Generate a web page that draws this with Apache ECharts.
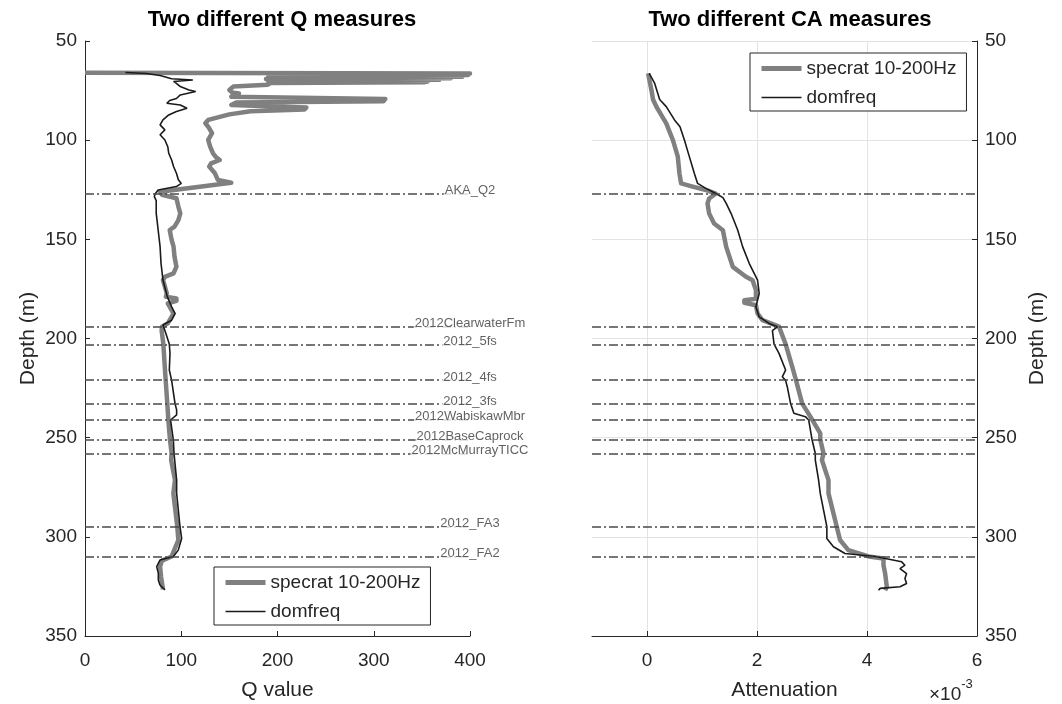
<!DOCTYPE html>
<html><head><meta charset="utf-8">
<script src="https://cdn.jsdelivr.net/npm/echarts@6/dist/echarts.min.js"></script>
<style>html,body{margin:0;padding:0;background:#fff}#c{width:1062px;height:704px}</style>
</head><body><div id="c"></div>
<script>
// ---- data ----
const formationNames = ['AKA_Q2','2012ClearwaterFm','2012_5fs','2012_4fs','2012_3fs','2012WabiskawMbr','2012BaseCaprock','2012McMurrayTICC','2012_FA3','2012_FA2'];
const formationDepths = [127, 194, 203, 221, 233, 241, 251, 258, 295, 310];

const depthTicks = [50, 100, 150, 200, 250, 300, 350];
const qTicks = [0, 100, 200, 300, 400];
const attTicks = [0, 2, 4, 6];

// Q value, specrat 10-200Hz
const qSpecDepth = [66.0,66.4,66.8,67.2,67.6,68.0,68.4,68.8,69.2,69.6,70.0,70.4,70.8,71.2,72.0,73.0,74.7,76.0,76.4,77.2,78.1,79.2,80.4,81.0,82.3,83.5,84.6,85.4,87.0,89.8,91.5,93.2,96.5,99.9,103.3,106.6,108.5,110.0,111.7,113.3,116.7,120.0,121.5,122.5,126.0,127.5,129.3,133.5,136.9,140.3,143.6,145.3,150.3,153.7,158.8,163.8,167.2,168.9,170.5,177.3,179.0,179.8,181.0,182.3,187.4,192.4,194.1,196.0,202.8,215.9,232.7,241.1,251.2,258.0,261.3,271.4,278.1,294.9,301.6,309.9,312.0,315.0,320.0,326.5];
const qSpecVal   = [0,400,196,398,193,392,190,380,188,368,190,356,352,193,190,154,150,153,160,155,152,312,310,157,152,230,228,172,150,128,125,128,132,128,130,133,136,140,131,129,135,138,152,150,78,80,95,97,99,97,93,88,90,92,93,95,92,83,81,85,84,95,95,86,92,86,80,79.6,81.4,83.1,85.5,86.6,88.3,90.0,89.5,93.5,91.8,95.9,97,90,80,78,79,81];

// Q value, domfreq
const qDomDepth = [65.9,66.4,67.4,69.0,69.7,70.4,71.4,73.0,74.7,75.5,77.2,79.0,80.0,81.4,82.3,83.9,85.6,87.3,89.8,92.3,94.8,97.3,99.9,103.3,106.6,110.0,113.3,116.7,120.0,121.8,123.4,125.1,127.0,128.5,130.5,136.9,145.3,153.7,162.2,170.5,178.9,184.0,187.4,190.8,193.2,194.1,196.0,202.8,207.5,215.9,221.1,232.7,236.0,238.5,241.1,251.2,258.0,271.4,278.1,294.9,300.8,306.7,309.9,311.7,315.0,318.4,321.8,324.3,326.8];
const qDomVal   = [42,64,78,90,112,92,95,99,108,115,99,95,88,85,99,106,95,87,81,78,83,78,83,86,87,90,92,95,97,100,95,76,73,72,74,74,76,78,79,81,85.5,90,93.5,90,81,80,83,87.6,88.3,87.6,90,93.5,95.2,95.2,88.9,91.8,92.5,95.2,95.2,98.7,100.4,96.9,91.8,77.9,74.5,76.2,76.2,77.9,83.1];

// Attenuation (x 1e-3), specrat 10-200Hz
const aSpecDepth = [66.3,74.7,79.5,83.1,91.5,99.9,108.3,116.7,121.8,123.4,125.1,127.0,129.4,131.9,137.0,142.0,145.4,153.8,163.9,168.9,170.6,175.6,180.0,180.7,182.0,183.2,187.4,190.7,194.0,202.8,214.2,221.1,232.7,239.4,247.8,250.9,258.0,261.3,271.4,278.1,294.9,301.6,306.7,309.9,310.9,314.3,318.5,325.2,326.9];
const aSpecVal   = [0.02,0.08,0.11,0.17,0.35,0.47,0.56,0.59,0.62,0.83,1.07,1.25,1.13,1.10,1.13,1.22,1.38,1.44,1.56,1.80,1.92,1.98,1.98,1.77,1.77,1.98,2.01,2.10,2.40,2.52,2.64,2.71,2.82,2.97,3.15,3.15,3.21,3.18,3.30,3.30,3.45,3.51,3.66,4.03,4.30,4.30,4.33,4.36,4.33];

// Attenuation (x 1e-3), domfreq
const aDomDepth = [66.3,71.4,79.5,83.1,89.8,93.2,99.9,108.3,116.7,121.8,124.3,127.0,129.0,131.9,137.0,145.4,153.8,162.2,170.6,177.3,184.0,189.1,192.4,194.1,196.0,202.8,207.5,215.9,219.3,221.1,224.3,232.7,237.7,239.4,241.1,250.9,258.0,261.3,271.4,278.1,294.9,300.8,305.0,308.4,309.9,312.6,314.3,316.0,318.5,321.0,323.5,325.2,326.0,326.9];
const aDomVal   = [0.04,0.14,0.23,0.35,0.50,0.60,0.68,0.77,0.86,0.92,1.07,1.26,1.38,1.44,1.53,1.65,1.74,1.86,2.01,2.04,1.98,2.04,2.22,2.37,2.28,2.31,2.40,2.52,2.46,2.52,2.55,2.61,2.67,2.88,2.94,3.00,3.06,3.06,3.12,3.15,3.27,3.27,3.39,3.60,4.15,4.63,4.69,4.60,4.72,4.69,4.72,4.60,4.24,4.21];

// ---- build ----
const pairs = (xs, ds) => xs.map((v, i) => [v, ds[i]]);
const FONT = "'Liberation Sans', Arial, sans-serif";
const AX = '#262626';
const GRAY = '#808080';
const BLACK = '#1a1a1a';
const dashDot = [9, 3, 2, 3];
const SPEC = 'specrat 10-200Hz', DOM = 'domfreq';

const chart = echarts.init(document.getElementById('c'), null, {renderer: 'canvas'});

const topsMarkLine = {
  silent: true, symbol: ['none', 'none'], animation: false,
  label: {show: false},
  lineStyle: {type: dashDot, color: '#4a4a4a', width: 1.5, opacity: 1},
  emphasis: {disabled: true},
  data: formationDepths.map(d => ({yAxis: d}))
};

const legendBase = {
  orient: 'vertical', selectedMode: false,
  data: [
    {name: SPEC, lineStyle: {color: GRAY, width: 5}, itemStyle: {opacity: 0}},
    {name: DOM, lineStyle: {color: BLACK, width: 1.6}, itemStyle: {opacity: 0}}
  ],
  borderColor: AX, borderWidth: 1, borderRadius: 0, backgroundColor: '#fff',
  itemWidth: 40, itemHeight: 14, itemGap: 8, padding: [5, 10, 3, 9],
  textStyle: {fontFamily: FONT, fontSize: 19, color: AX, lineHeight: 21}
};

const valAxisCommon = {
  axisLine: {show: true, onZero: false, lineStyle: {color: AX, width: 1}},
  axisTick: {show: true, inside: true, length: 5, lineStyle: {color: AX}},
  axisLabel: {fontFamily: FONT, fontSize: 19, color: AX},
  nameTextStyle: {fontFamily: FONT, fontSize: 21, color: AX}
};

const option = {
  backgroundColor: '#fff',
  animation: false,
  title: [
    {text: 'Two different Q measures', left: 277, top: 4, textAlign: 'center',
     textStyle: {fontFamily: FONT, fontSize: 22, fontWeight: 'bold', color: '#000'}},
    {text: 'Two different CA measures', left: 785, top: 4, textAlign: 'center',
     textStyle: {fontFamily: FONT, fontSize: 22, fontWeight: 'bold', color: '#000'}},
    {text: '{a|×10}{b|-3}', left: 924, top: 670,
     textStyle: {fontWeight: 'normal', rich: {
       a: {fontFamily: FONT, fontSize: 19, fontWeight: 'normal', color: AX, padding: [10, 0, 0, 0]},
       b: {fontFamily: FONT, fontSize: 13, fontWeight: 'normal', color: AX, padding: [0, 0, 10, 0]}}}}
  ],
  legend: [
    Object.assign({}, legendBase, {left: 214, top: 567}),
    Object.assign({}, legendBase, {left: 750, top: 53})
  ],
  grid: [
    {left: 85, top: 41, width: 385, height: 595, outerBoundsMode: 'none', containLabel: false},
    {left: 592, top: 41, width: 385, height: 595, outerBoundsMode: 'none', containLabel: false}
  ],
  xAxis: [
    Object.assign({}, valAxisCommon, {
      type: 'value', gridIndex: 0, min: 0, max: 400, interval: 100, position: 'bottom',
      name: 'Q value', nameLocation: 'middle', nameGap: 44,
      splitLine: {show: false},
      axisLabel: Object.assign({}, valAxisCommon.axisLabel, {margin: 15})
    }),
    Object.assign({}, valAxisCommon, {
      type: 'value', gridIndex: 1, min: -1, max: 6, position: 'bottom',
      name: 'Attenuation', nameLocation: 'middle', nameGap: 44,
      axisTick: Object.assign({}, valAxisCommon.axisTick, {customValues: attTicks}),
      axisLabel: Object.assign({}, valAxisCommon.axisLabel, {margin: 15, customValues: attTicks}),
      splitLine: {show: true, lineStyle: {color: '#e3e3e3', width: 1}}
    })
  ],
  yAxis: [
    Object.assign({}, valAxisCommon, {
      type: 'value', gridIndex: 0, inverse: true, min: 50, max: 350, interval: 50, position: 'left',
      name: 'Depth (m)', nameLocation: 'middle', nameGap: 46, nameRotate: 90,
      splitLine: {show: false},
      axisLabel: Object.assign({}, valAxisCommon.axisLabel, {margin: 8})
    }),
    Object.assign({}, valAxisCommon, {
      type: 'value', gridIndex: 1, inverse: true, min: 50, max: 350, interval: 50, position: 'right',
      name: 'Depth (m)', nameLocation: 'middle', nameGap: 50, nameRotate: 90,
      splitLine: {show: true, lineStyle: {color: '#e3e3e3', width: 1}},
      axisLabel: Object.assign({}, valAxisCommon.axisLabel, {margin: 8})
    })
  ],
  series: [
    {type: 'scatter', name: 'topsLeft', xAxisIndex: 0, yAxisIndex: 0, data: [], z: 1, silent: true, markLine: topsMarkLine},
    {type: 'scatter', name: 'topsRight', xAxisIndex: 1, yAxisIndex: 1, data: [], z: 1, silent: true, markLine: topsMarkLine},
    {type: 'line', name: SPEC, xAxisIndex: 0, yAxisIndex: 0, data: pairs(qSpecVal, qSpecDepth),
     symbol: 'none', showSymbol: false, z: 3, lineStyle: {color: GRAY, width: 4.5, join: 'round'}, itemStyle: {color: GRAY}},
    {type: 'line', name: DOM, xAxisIndex: 0, yAxisIndex: 0, data: pairs(qDomVal, qDomDepth),
     symbol: 'none', showSymbol: false, z: 4, lineStyle: {color: BLACK, width: 1.6}, itemStyle: {color: BLACK}},
    {type: 'line', name: SPEC, xAxisIndex: 1, yAxisIndex: 1, data: pairs(aSpecVal, aSpecDepth),
     symbol: 'none', showSymbol: false, z: 3, lineStyle: {color: GRAY, width: 4.5, join: 'round'}, itemStyle: {color: GRAY}},
    {type: 'line', name: DOM, xAxisIndex: 1, yAxisIndex: 1, data: pairs(aDomVal, aDomDepth),
     symbol: 'none', showSymbol: false, z: 4, lineStyle: {color: BLACK, width: 1.6}, itemStyle: {color: BLACK}},
    {type: 'scatter', name: 'topLabels', xAxisIndex: 0, yAxisIndex: 0, z: 10, silent: true, clip: false,
     symbolSize: 0,
     data: formationNames.map((n, i) => ({name: n, value: [qTicks[qTicks.length - 1], formationDepths[i]]})),
     label: {show: true, position: 'inside', offset: [0, -3], formatter: '{b}',
             fontFamily: FONT, fontSize: 13, color: '#3a3a3a', backgroundColor: '#fff', padding: [0, 1], lineHeight: 11}}
  ]
};
chart.setOption(option);
</script></body></html>
